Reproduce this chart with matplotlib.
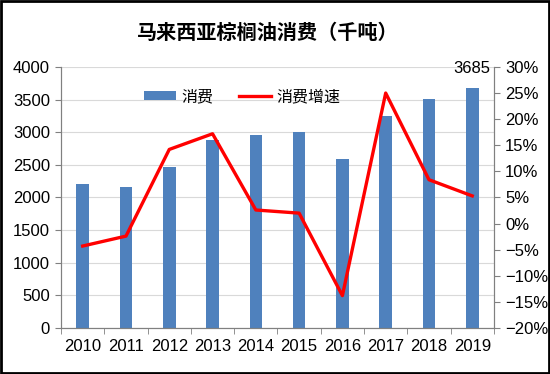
import numpy as np
import matplotlib.pyplot as plt
from matplotlib.ticker import FuncFormatter

plt.rcParams['font.family'] = ['Liberation Sans', 'Noto Sans CJK SC']

years = ['2010', '2011', '2012', '2013', '2014', '2015', '2016', '2017', '2018', '2019']
consumption = [2200, 2160, 2465, 2875, 2950, 3005, 2590, 3245, 3510, 3685]
growth = [-4.3, -2.4, 14.2, 17.2, 2.6, 2.0, -13.8, 25.0, 8.4, 5.3]

fig = plt.figure(figsize=(5.5, 3.74), dpi=100)
ax1 = fig.add_axes([0.111, 0.123, 0.787, 0.698])
ax2 = ax1.twinx()

x = np.arange(len(years))
bars = ax1.bar(x, consumption, width=0.29, color='#4F81BD', zorder=2, label='消费')
line, = ax2.plot(x, growth, color='#FF0000', lw=2.4, zorder=3, label='消费增速')

ax1.set_xlim(-0.5, len(years) - 0.5)
ax1.set_ylim(0, 4000)
ax1.set_yticks(np.arange(0, 4001, 500))
ax2.set_ylim(-20, 30)
ax2.set_yticks(np.arange(-20, 31, 5))
ax2.yaxis.set_major_formatter(FuncFormatter(lambda v, p: f'{int(v)}%'.replace('-', '\u2212')))

ax1.set_xticks(x)
ax1.set_xticklabels(years)
ax1.set_xticks(np.arange(-0.5, len(years), 1), minor=True)
ax1.tick_params(axis='x', which='major', length=0, labelsize=12, pad=8)
ax1.tick_params(axis='x', which='minor', length=4, color='#808080', direction='out')
ax1.tick_params(axis='y', length=4, color='#808080', labelsize=12, pad=4)
ax2.tick_params(axis='y', length=4, color='#808080', labelsize=12, pad=4)

ax1.grid(axis='y', color='#D9D9D9', lw=0.8, zorder=0)
ax1.set_axisbelow(True)
for ax in (ax1, ax2):
    ax.spines['top'].set_visible(False)
    for s in ('left', 'right', 'bottom'):
        ax.spines[s].set_color('#808080')

ax1.text(x[-1], consumption[-1] + 170, f'{consumption[-1]}', ha='center', va='bottom', fontsize=12)

ax2.legend([bars, line], ['消费', '消费增速'], loc='center', bbox_to_anchor=(0.418, 0.885),
           ncol=2, frameon=False, fontsize=11.5, handlelength=2.0, handleheight=0.45,
           columnspacing=1.6, handletextpad=0.35)

fig.text(0.487, 0.912, '马来西亚棕榈油消费（千吨）', ha='center', va='center', fontsize=14.5,
         fontweight='bold', family=['Noto Sans CJK SC'])

fig.patches.append(plt.Rectangle((0.002, 0.003), 0.996, 0.994, transform=fig.transFigure,
                                 fill=False, ec='black', lw=2))

fig.savefig('out.png', dpi=100)
